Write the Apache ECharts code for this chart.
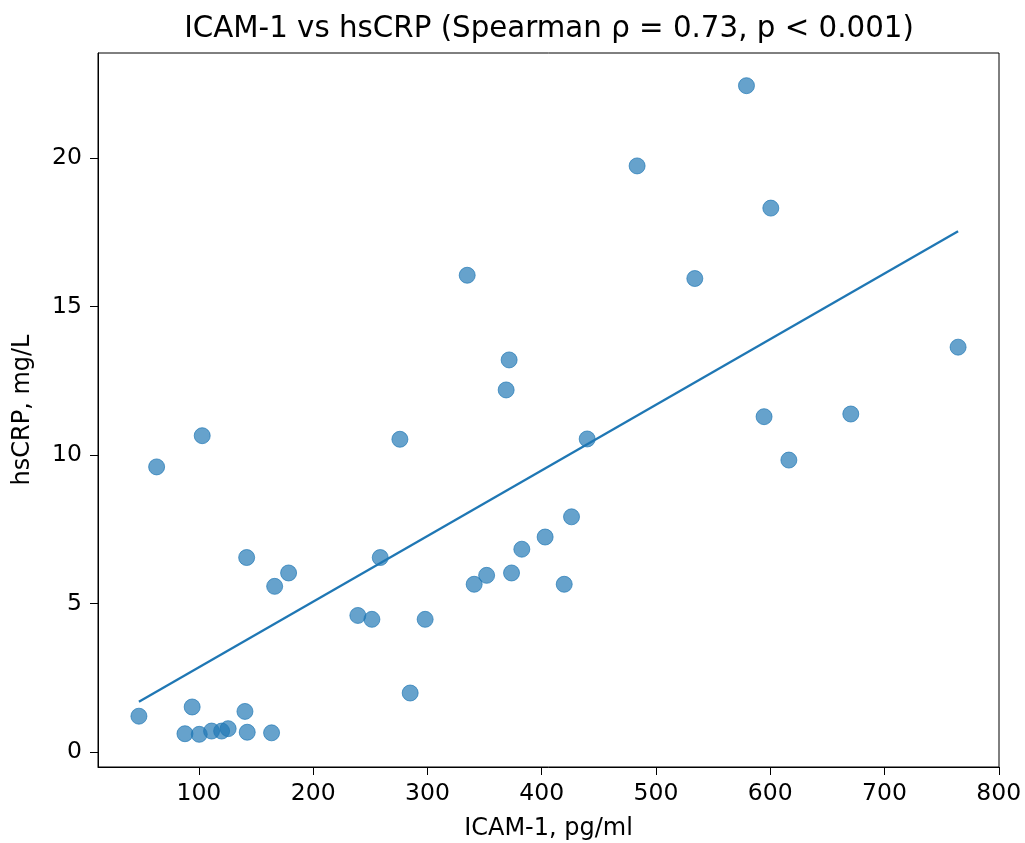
<!DOCTYPE html>
<html>
<head>
<meta charset="utf-8">
<script src="https://cdn.jsdelivr.net/npm/echarts@6/dist/echarts.min.js"></script>
<style>
html,body{margin:0;padding:0;background:#fff;}
#chart{width:1025px;height:843px;}
</style>
</head>
<body>
<div id="chart"></div>
<script>
// ICAM-1 (pg/ml) and hsCRP (mg/L) values
const icam = [47.5, 63.0, 87.8, 94.1, 100.3, 102.9, 111.1, 119.9, 125.6, 140.3, 142.3, 163.6, 141.8, 166.3, 178.5, 239.1, 251.4, 258.7, 284.9, 298.0, 275.9, 334.8, 371.5, 368.9, 340.9, 351.8, 373.6, 382.6, 403.0, 419.7, 426.1, 439.8, 483.5, 534.0, 579.2, 600.5, 594.6, 616.3, 670.5, 764.4];
const hscrp = [1.21, 9.60, 0.62, 1.52, 0.60, 10.65, 0.71, 0.71, 0.79, 1.37, 0.67, 0.65, 6.55, 5.58, 6.03, 4.60, 4.47, 6.55, 1.99, 4.47, 10.53, 16.05, 13.20, 12.19, 5.65, 5.95, 6.03, 6.83, 7.24, 5.65, 7.92, 10.54, 19.73, 15.94, 22.43, 18.31, 11.29, 9.83, 11.38, 13.63];
// fitted line endpoints
const fitX = [47.5, 764.4];
const fitY = [1.70, 17.53];
const xTicks = [100, 200, 300, 400, 500, 600, 700, 800];
const yTicks = [0, 5, 10, 15, 20];
const titleText = 'ICAM-1 vs hsCRP (Spearman ρ = 0.73, p < 0.001)';
const xName = 'ICAM-1, pg/ml';
const yName = 'hsCRP, mg/L';

const points = icam.map((x, i) => [x, hscrp[i]]);
const fit = fitX.map((x, i) => [x, fitY[i]]);
const font = 'DejaVu Sans';

const chart = echarts.init(document.getElementById('chart'), null, {renderer: 'canvas'});
chart.setOption({
  animation: false,
  backgroundColor: '#ffffff',
  title: {
    text: titleText,
    left: 544, textAlign: 'center', top: 10,
    textStyle: {fontFamily: font, fontSize: 29.3, fontWeight: 'normal', color: '#000'}
  },
  grid: {left: 98, right: 26, top: 53, bottom: 76, show: true, borderColor: '#000', borderWidth: 1, backgroundColor: 'transparent', containLabel: false, outerBoundsMode: 'none'},
  xAxis: {
    type: 'value', min: 11.7, max: 800.2,
    name: xName, nameLocation: 'middle', nameGap: 50,
    nameTextStyle: {fontFamily: font, fontSize: 24, color: '#000'},
    axisLine: {show: true, onZero: false, lineStyle: {color: '#000', width: 1}},
    axisTick: {show: true, length: 8, lineStyle: {color: '#000', width: 1}, customValues: xTicks},
    axisLabel: {fontFamily: font, fontSize: 23.5, color: '#000', margin: 15, customValues: xTicks},
    splitLine: {show: false}
  },
  yAxis: {
    type: 'value', min: -0.5, max: 23.53,
    name: yName, nameLocation: 'middle', nameGap: 63, nameRotate: 90,
    nameTextStyle: {fontFamily: font, fontSize: 24, color: '#000'},
    axisLine: {show: true, onZero: false, lineStyle: {color: '#000', width: 1}},
    axisTick: {show: true, length: 8, lineStyle: {color: '#000', width: 1}, customValues: yTicks},
    axisLabel: {fontFamily: font, fontSize: 23.5, color: '#000', margin: 16, customValues: yTicks},
    splitLine: {show: false}
  },
  series: [
    {
      type: 'scatter', data: points, symbolSize: 16,
      itemStyle: {color: 'rgba(31,119,180,0.85)', borderColor: 'rgba(31,119,180,0.85)', borderWidth: 1},
      z: 2
    },
    {
      type: 'line', data: fit, symbol: 'none', showSymbol: false,
      lineStyle: {color: '#1f77b4', width: 2.3}, z: 3
    }
  ]
});
</script>
</body>
</html>
